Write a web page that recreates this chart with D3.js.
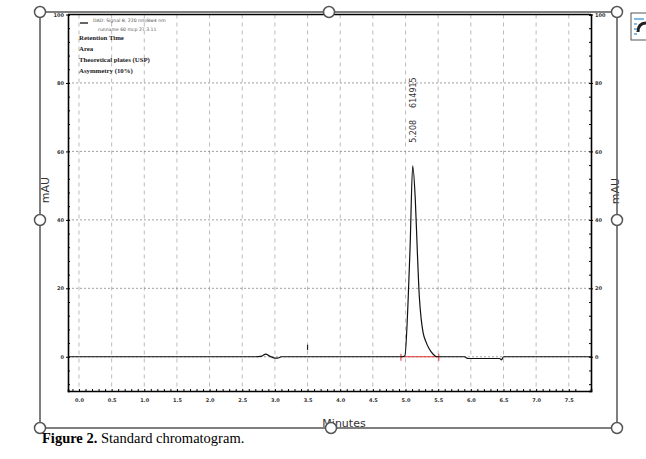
<!DOCTYPE html>
<html>
<head>
<meta charset="utf-8">
<script src="https://cdn.jsdelivr.net/npm/d3@7"></script>
<style>
  body { margin: 0; background: #fff; }
  .tick text { font-family: "DejaVu Sans", sans-serif; font-weight: bold; }
</style>
</head>
<body>
<script>
// chromatogram trace, time in minutes and signal in mAU
var timeMin = [-0.17, 2.70, 2.80, 2.86, 2.92, 2.98, 3.04, 3.10, 4.95, 4.99, 5.04, 5.07, 5.11, 5.15, 5.18, 5.21, 5.24, 5.27, 5.31, 5.36, 5.42, 5.48, 5.90, 5.96, 6.44, 6.47, 6.50, 7.84];
var signal  = [0, 0, 0.2, 0.8, 0.2, -0.3, -0.4, 0, 0, 0.3, 16.6, 32, 55.8, 45.8, 31.2, 18, 11, 7, 4.5, 2.4, 0.8, 0, 0, -0.5, -0.5, -0.9, 0, 0];

// axis ticks
var xTicks = [0, 0.5, 1, 1.5, 2, 2.5, 3, 3.5, 4, 4.5, 5, 5.5, 6, 6.5, 7, 7.5];
var xTickLabels = ["0.0", "0.5", "1.0", "1.5", "2.0", "2.5", "3.0", "3.5", "4.0", "4.5", "5.0", "5.5", "6.0", "6.5", "7.0", "7.5"];
var yTicks = [0, 20, 40, 60, 80, 100];
var gridY = [20, 40, 60, 80];

// peak annotation and integration baseline
var peakTime = [5.11];
var peakLabels = ["5.208", "614915"];
var integStart = [4.93];
var integEnd = [5.51];
var eventMarks = [3.5];

// legend block
var signalLines = ["DAD: Signal B, 220 nm/Bw4 nm", "runname 60 mcp 27.3.11"];
var legendLines = ["Retention Time", "Area", "Theoretical plates (USP)", "Asymmetry (10%)"];

window.onload = function(){
    var w = 646, h = 459;
    var svg = d3.select("body")
        .append("svg")
        .attr("width", w)
        .attr("height", h)
        .style("display", "block");

    // scales, fitted to the plot box of the image
    var x = d3.scaleLinear().domain([-0.168, 7.84]).range([68, 591]);
    var y = d3.scaleLinear().domain([-10, 100]).range([391, 14.5]);

    // vertical dashed grid
    svg.append("g").selectAll("line")
        .data(xTicks)
        .enter().append("line")
        .attr("x1", function(d){ return x(d); })
        .attr("x2", function(d){ return x(d); })
        .attr("y1", y(100))
        .attr("y2", y(-10))
        .style("stroke", "#aaa")
        .style("stroke-dasharray", "4,4")
        .style("stroke-width", 0.8);

    // horizontal dotted grid
    svg.append("g").selectAll("line")
        .data(gridY.concat([0]))
        .enter().append("line")
        .attr("x1", x.range()[0])
        .attr("x2", x.range()[1])
        .attr("y1", function(d){ return y(d); })
        .attr("y2", function(d){ return y(d); })
        .style("stroke", "#888")
        .style("stroke-dasharray", "2,2")
        .style("stroke-width", 0.8);

    // axes, minor ticks first then labelled ones
    var minorX = d3.range(0, 78).map(function(i){ return -0.1 + i * 0.1; });
    var minorY = d3.range(-8, 101, 4);

    svg.append("g")
        .attr("transform", "translate(0," + y(-10) + ")")
        .call(d3.axisTop(x).tickValues(minorX).tickSize(2).tickFormat(""))
        .call(function(g){ g.select(".domain").style("stroke-width", 1.6); });

    svg.append("g")
        .attr("transform", "translate(0," + y(-10) + ")")
        .call(d3.axisBottom(x).tickValues(xTicks).tickSize(0).tickPadding(7)
            .tickFormat(function(d, i){ return xTickLabels[i]; }))
        .call(function(g){ g.select(".domain").remove(); })
        .selectAll("text").style("font-size", "5px").style("fill", "#333");

    svg.append("g")
        .attr("transform", "translate(" + x.range()[0] + ",0)")
        .call(d3.axisRight(y).tickValues(minorY).tickSize(2).tickFormat(""))
        .call(function(g){ g.select(".domain").style("stroke-width", 1.6); });

    svg.append("g")
        .attr("transform", "translate(" + x.range()[0] + ",0)")
        .call(d3.axisLeft(y).tickValues(yTicks).tickSize(2).tickPadding(2))
        .call(function(g){ g.select(".domain").remove(); })
        .selectAll("text").style("font-size", "5px").style("fill", "#333");

    svg.append("g")
        .attr("transform", "translate(" + x.range()[1] + ",0)")
        .call(d3.axisLeft(y).tickValues(minorY).tickSize(2).tickFormat(""))
        .call(function(g){ g.select(".domain").style("stroke-width", 1.6); });

    svg.append("g")
        .attr("transform", "translate(" + x.range()[1] + ",0)")
        .call(d3.axisRight(y).tickValues(yTicks).tickSize(2).tickPadding(2))
        .call(function(g){ g.select(".domain").remove(); })
        .selectAll("text").style("font-size", "5px").style("fill", "#333");

    // top border of the plot
    svg.append("line")
        .attr("x1", x.range()[0]).attr("x2", x.range()[1])
        .attr("y1", y(100)).attr("y2", y(100))
        .style("stroke", "#000").style("stroke-width", 1.6);

    // integration baseline in red with end ticks
    svg.append("line")
        .attr("x1", x(integStart[0])).attr("x2", x(integEnd[0]))
        .attr("y1", y(0)).attr("y2", y(0))
        .style("stroke", "#e03030").style("stroke-width", 1.2);
    svg.append("g").selectAll("line")
        .data([integStart[0], integEnd[0]])
        .enter().append("line")
        .attr("x1", function(d){ return x(d); })
        .attr("x2", function(d){ return x(d); })
        .attr("y1", y(0) - 3)
        .attr("y2", y(0) + 4)
        .style("stroke", "#e03030").style("stroke-width", 1);

    // the chromatogram trace
    var line = d3.line()
        .x(function(d){ return x(d[0]); })
        .y(function(d){ return y(d[1]); })
        .curve(d3.curveMonotoneX);
    svg.append("path")
        .datum(d3.zip(timeMin, signal))
        .attr("d", line)
        .style("fill", "none")
        .style("stroke", "#111")
        .style("stroke-width", 1.2);

    // little event mark
    svg.append("g").selectAll("line")
        .data(eventMarks)
        .enter().append("line")
        .attr("x1", function(d){ return x(d); })
        .attr("x2", function(d){ return x(d); })
        .attr("y1", y(3.5)).attr("y2", y(2))
        .style("stroke", "#222").style("stroke-width", 1.2);

    // peak label, rotated, two parts with a gap
    var pl = svg.append("text")
        .attr("transform", "translate(" + (x(peakTime[0]) + 3) + "," + (y(55.8) - 23) + ") rotate(-90)")
        .style("font-family", "DejaVu Sans, sans-serif")
        .style("font-size", "8px")
        .style("fill", "#333");
    pl.append("tspan").text(peakLabels[0]);
    pl.append("tspan").attr("dx", 12).text(peakLabels[1]);

    // legend in the top left corner
    svg.append("line")
        .attr("x1", 80).attr("x2", 88).attr("y1", 23).attr("y2", 23)
        .style("stroke", "#333").style("stroke-width", 1.5);
    svg.append("g").selectAll("text")
        .data(signalLines)
        .enter().append("text")
        .attr("x", function(d, i){ return i == 0 ? 93 : 98; })
        .attr("y", function(d, i){ return 22 + i * 9; })
        .style("font-family", "DejaVu Sans, sans-serif")
        .style("font-size", "4.6px")
        .style("fill", "#555")
        .text(function(d){ return d; });
    svg.append("g").selectAll("text")
        .data(legendLines)
        .enter().append("text")
        .attr("x", 79)
        .attr("y", function(d, i){ return 40 + i * 11; })
        .style("font-family", "Liberation Serif, serif")
        .style("font-size", "6.8px")
        .style("font-weight", "bold")
        .style("fill", "#222")
        .text(function(d){ return d; });

    // axis titles
    svg.append("text")
        .attr("transform", "translate(49,190) rotate(-90)")
        .attr("text-anchor", "middle")
        .style("font-family", "DejaVu Sans, sans-serif")
        .style("font-size", "11px")
        .style("fill", "#333")
        .text("mAU");
    svg.append("text")
        .attr("transform", "translate(619,191) rotate(-90)")
        .attr("text-anchor", "middle")
        .style("font-family", "DejaVu Sans, sans-serif")
        .style("font-size", "11px")
        .style("fill", "#333")
        .text("mAU");
    svg.append("text")
        .attr("x", 344).attr("y", 427)
        .attr("text-anchor", "middle")
        .style("font-family", "DejaVu Sans, sans-serif")
        .style("font-size", "11px")
        .style("fill", "#333")
        .text("Minutes");

    // selection frame of the picture, with handles
    var fx0 = 40, fx1 = 617, fy0 = 12, fy1 = 428;
    svg.append("rect")
        .attr("x", fx0).attr("y", fy0)
        .attr("width", fx1 - fx0).attr("height", fy1 - fy0)
        .style("fill", "none")
        .style("stroke", "#555")
        .style("stroke-width", 1.5);
    var handles = [[fx0, fy0], [329, fy0], [fx1, fy0], [fx0, 220], [fx1, 220], [fx0, fy1], [331, fy1], [fx1, fy1]];
    svg.append("g").selectAll("circle")
        .data(handles)
        .enter().append("circle")
        .attr("cx", function(d){ return d[0]; })
        .attr("cy", function(d){ return d[1]; })
        .attr("r", 5.5)
        .style("fill", "#fff")
        .style("stroke", "#555")
        .style("stroke-width", 1.5);

    // layout options icon at the right edge
    var icon = svg.append("g");
    icon.append("rect")
        .attr("x", 631).attr("y", 13).attr("width", 20).attr("height", 27)
        .style("fill", "#fff").style("stroke", "#555").style("stroke-width", 1);
    icon.selectAll("line")
        .data([19, 24, 29, 34])
        .enter().append("line")
        .attr("x1", 634).attr("x2", function(d, i){ return i == 0 ? 644 : 637; })
        .attr("y1", function(d){ return d; }).attr("y2", function(d){ return d; })
        .style("stroke", "#2a8ad8").style("stroke-width", 1.2);
    icon.append("path")
        .attr("d", "M638,32 Q638,23 646,23")
        .style("fill", "none").style("stroke", "#222").style("stroke-width", 3);

    // caption below the picture
    var cap = svg.append("text")
        .attr("x", 42).attr("y", 443)
        .style("font-family", "Liberation Serif, serif")
        .style("font-size", "14.5px")
        .style("fill", "#000");
    cap.append("tspan").style("font-weight", "bold").text("Figure 2.");
    cap.append("tspan").text(" Standard chromatogram.");
};
</script>
</body>
</html>
